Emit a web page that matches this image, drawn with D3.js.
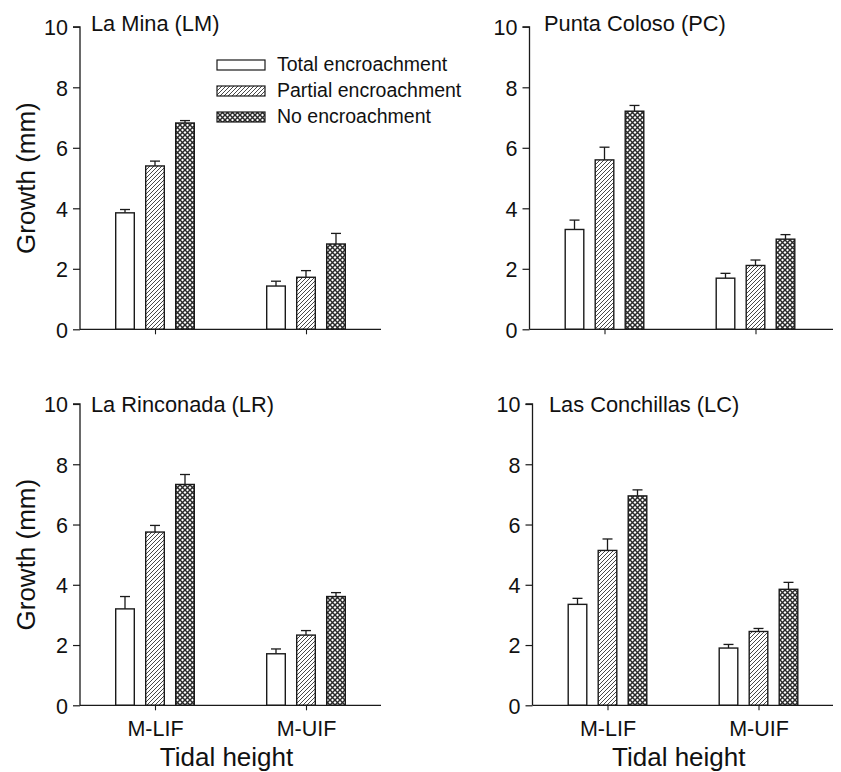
<!DOCTYPE html>
<html>
<head>
<meta charset="utf-8">
<script src="https://cdn.jsdelivr.net/npm/d3@7"></script>
<style>
  html, body { margin: 0; padding: 0; background: #fff; }
  svg { display: block; font-family: "Liberation Sans", Arial, Helvetica, sans-serif; }
</style>
</head>
<body>
<svg id="chart" width="841" height="772"></svg>
<script>
// Tidal heights and treatments
const categories = ["M-LIF", "M-UIF"];
const treatments = ["Total encroachment", "Partial encroachment", "No encroachment"];
const siteNames = ["La Mina (LM)", "Punta Coloso (PC)", "La Rinconada (LR)", "Las Conchillas (LC)"];
const yTicks = [0, 2, 4, 6, 8, 10];

// Mean growth (mm): one row per tidal height, one value per treatment
const lmMeans = [[3.85, 5.40, 6.82], [1.43, 1.72, 2.82]];
const lmErrors = [[0.11, 0.16, 0.08], [0.16, 0.22, 0.35]];
const pcMeans = [[3.30, 5.60, 7.21], [1.69, 2.11, 2.98]];
const pcErrors = [[0.31, 0.42, 0.19], [0.16, 0.18, 0.15]];
const lrMeans = [[3.20, 5.75, 7.33], [1.71, 2.33, 3.61]];
const lrErrors = [[0.41, 0.22, 0.33], [0.16, 0.15, 0.13]];
const lcMeans = [[3.35, 5.14, 6.95], [1.90, 2.45, 3.85]];
const lcErrors = [[0.20, 0.38, 0.20], [0.12, 0.10, 0.23]];

const siteMeans = [lmMeans, pcMeans, lrMeans, lcMeans];
const siteErrors = [lmErrors, pcErrors, lrErrors, lcErrors];

// Panel frames: y axis x position, plot top/bottom, title offset
const panels = [
  { x0: 80,    x1: 381, top: 26.8, bottom: 329.3, titleX: 91,  titleY: 30.5, left: true,  bottomRow: false },
  { x0: 529.5, x1: 833, top: 26.8, bottom: 329.3, titleX: 544, titleY: 30.5, left: false, bottomRow: false },
  { x0: 80,    x1: 381, top: 404,  bottom: 705.3, titleX: 91,  titleY: 411.5, left: true,  bottomRow: true },
  { x0: 532.5, x1: 833, top: 404,  bottom: 705.3, titleX: 549, titleY: 411.5, left: false, bottomRow: true }
];

const ink = "#1a1a1a";
const svg = d3.select("#chart");
const defs = svg.append("defs");

// Diagonal hatch for partial encroachment
const hatch = defs.append("pattern")
  .attr("id", "hatch").attr("patternUnits", "userSpaceOnUse")
  .attr("width", 4).attr("height", 4);
hatch.append("rect").attr("width", 4).attr("height", 4).attr("fill", "#fff");
hatch.append("path").attr("d", "M-1,1 l2,-2 M0,4 l4,-4 M3,5 l2,-2")
  .attr("stroke", "#333").attr("stroke-width", 0.9);

// Cross-hatch for no encroachment
const cross = defs.append("pattern")
  .attr("id", "cross").attr("patternUnits", "userSpaceOnUse")
  .attr("width", 5).attr("height", 5);
cross.append("rect").attr("width", 5).attr("height", 5).attr("fill", "#fff");
cross.append("path").attr("d", "M0,0 L5,5 M5,0 L0,5")
  .attr("stroke", "#2a2a2a").attr("stroke-width", 1.45);

const fills = ["#fff", "url(#hatch)", "url(#cross)"];

panels.forEach((p, i) => {
  const means = siteMeans[i];
  const errs = siteErrors[i];

  const y = d3.scaleLinear().domain([0, 10]).range([p.bottom, p.top]);
  const x = d3.scalePoint().domain(categories).range([p.x0 + 75, p.x0 + 226]);
  const xs = d3.scaleBand().domain(treatments).range([-45, 45])
    .paddingInner(0.38).paddingOuter(0.19);

  const g = svg.append("g");

  // Bars
  categories.forEach((c, ci) => {
    treatments.forEach((t, ti) => {
      const v = means[ci][ti];
      const e = errs[ci][ti];
      const bx = x(c) + xs(t);
      const cx = bx + xs.bandwidth() / 2;
      // error bar (upper only)
      g.append("line").attr("x1", cx).attr("x2", cx)
        .attr("y1", y(v)).attr("y2", y(v + e))
        .attr("stroke", ink).attr("stroke-width", 1.3);
      g.append("line").attr("x1", cx - 5).attr("x2", cx + 5)
        .attr("y1", y(v + e)).attr("y2", y(v + e))
        .attr("stroke", ink).attr("stroke-width", 1.3);
      g.append("rect")
        .attr("x", bx).attr("y", y(v))
        .attr("width", xs.bandwidth()).attr("height", y(0) - y(v))
        .attr("fill", fills[ti]).attr("stroke", ink).attr("stroke-width", 1.4);
    });
  });

  // Y axis
  const yAxis = d3.axisLeft(y).tickValues(yTicks).tickSize(7).tickPadding(5)
    .tickFormat(d3.format("d"));
  const ya = g.append("g").attr("transform", `translate(${p.x0},0)`).call(yAxis);
  ya.select(".domain").attr("stroke", ink).attr("stroke-width", 1.3)
    .attr("d", `M-7,${p.top}H0V${p.bottom}`);
  ya.selectAll(".tick line").attr("stroke", ink).attr("stroke-width", 1.2);
  ya.selectAll(".tick text").attr("fill", "#111").style("font-size", "21.5px")
    .attr("dy", "0.36em");

  // X axis
  const xAxis = d3.axisBottom(x).tickSize(5).tickPadding(10)
    .tickFormat(p.bottomRow ? (d => d) : () => "");
  const xa = g.append("g").attr("transform", `translate(0,${p.bottom})`).call(xAxis);
  xa.select(".domain").attr("stroke", ink).attr("stroke-width", 1.3)
    .attr("d", `M${p.x0},0H${p.x1}`);
  xa.selectAll(".tick line").attr("stroke", ink).attr("stroke-width", 1.1);
  xa.selectAll(".tick text").attr("fill", "#111").style("font-size", "21.5px");

  // Site title
  g.append("text").attr("x", p.titleX).attr("y", p.titleY)
    .attr("fill", "#111").style("font-size", "21.8px").text(siteNames[i]);

  // Axis titles
  if (p.left) {
    g.append("text")
      .attr("transform", `translate(35,${(p.top + p.bottom) / 2}) rotate(-90)`)
      .attr("text-anchor", "middle").attr("fill", "#111")
      .style("font-size", "26px").text("Growth (mm)");
  }
  if (p.bottomRow) {
    g.append("text")
      .attr("x", (p.x0 + p.x1) / 2 - 4).attr("y", 766)
      .attr("text-anchor", "middle").attr("fill", "#111")
      .style("font-size", "26px").text("Tidal height");
  }
});

// Legend in the first panel
const legend = svg.append("g");
treatments.forEach((t, ti) => {
  const ly = 60 + ti * 26;
  legend.append("rect").attr("x", 217).attr("y", ly)
    .attr("width", 48).attr("height", 10)
    .attr("fill", fills[ti]).attr("stroke", ink).attr("stroke-width", 1.2);
  legend.append("text").attr("x", 277).attr("y", ly + 11)
    .attr("fill", "#111").style("font-size", "19.5px").text(t);
});
</script>
</body>
</html>
